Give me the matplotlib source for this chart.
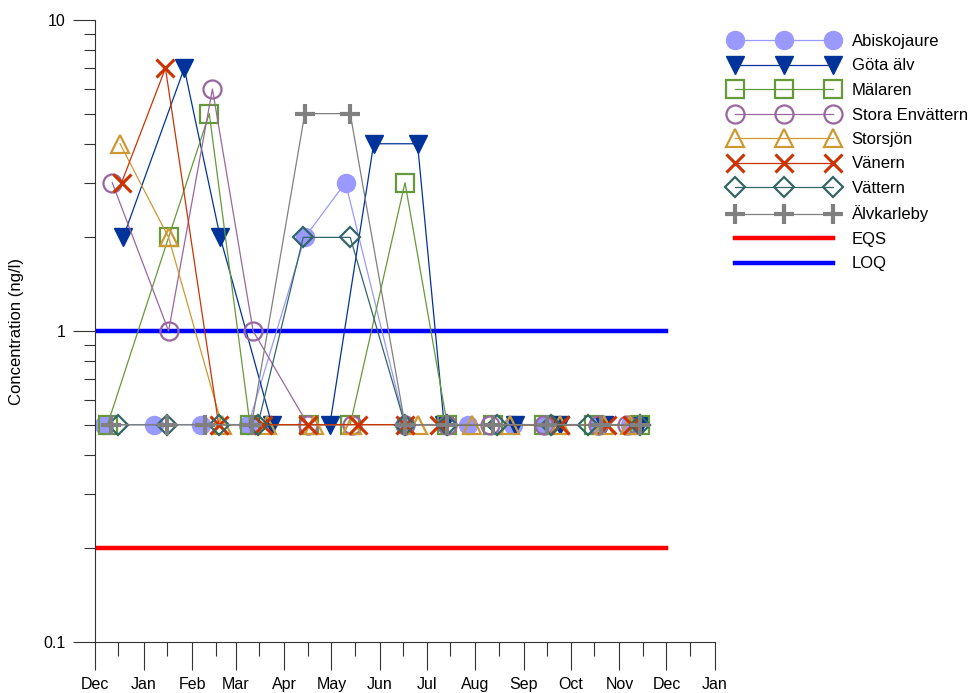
import matplotlib
matplotlib.use("Agg")
import matplotlib.pyplot as plt
import matplotlib.dates as mdates
from matplotlib.lines import Line2D
from matplotlib.legend_handler import HandlerLine2D
from matplotlib.ticker import FixedLocator, FixedFormatter
import pandas as pd

plt.rcParams['font.family'] = ['Liberation Sans', 'DejaVu Sans']

# ---- data ----
abisko_dates = ['2008-12-07', '2009-01-08', '2009-02-07', '2009-03-09', '2009-04-14', '2009-05-10',
                '2009-06-17', '2009-07-27', '2009-08-25', '2009-09-14', '2009-10-18', '2009-11-08']
abisko_vals = [0.5, 0.5, 0.5, 0.5, 2, 3, 0.5, 0.5, 0.5, 0.5, 0.5, 0.5]

gota_dates = ['2008-12-19', '2009-01-27', '2009-02-19', '2009-03-24', '2009-04-30', '2009-05-28',
              '2009-06-25', '2009-07-12', '2009-08-26', '2009-09-24', '2009-10-22', '2009-11-14']
gota_vals = [2, 7, 2, 0.5, 0.5, 4, 4, 0.5, 0.5, 0.5, 0.5, 0.5]

malaren_dates = ['2008-12-09', '2009-01-17', '2009-02-12', '2009-03-10', '2009-04-17', '2009-05-13',
                 '2009-06-17', '2009-07-14', '2009-08-12', '2009-09-14', '2009-10-16', '2009-11-14']
malaren_vals = [0.5, 2, 5, 0.5, 0.5, 0.5, 3, 0.5, 0.5, 0.5, 0.5, 0.5]

stora_dates = ['2008-12-12', '2009-01-17', '2009-02-14', '2009-03-12', '2009-04-16', '2009-05-14',
               '2009-06-17', '2009-07-14', '2009-08-10', '2009-09-14', '2009-10-18', '2009-11-06']
stora_vals = [3, 1, 6, 1, 0.5, 0.5, 0.5, 0.5, 0.5, 0.5, 0.5, 0.5]

storsjon_dates = ['2008-12-17', '2009-01-17', '2009-02-20', '2009-03-21', '2009-04-20', '2009-05-14',
                  '2009-06-25', '2009-07-30', '2009-08-23', '2009-09-24', '2009-10-22', '2009-11-08']
storsjon_vals = [4, 2, 0.5, 0.5, 0.5, 0.5, 0.5, 0.5, 0.5, 0.5, 0.5, 0.5]

vanern_dates = ['2008-12-18', '2009-01-15', '2009-02-18', '2009-03-18', '2009-04-16', '2009-05-18',
                '2009-06-17', '2009-07-09', '2009-09-24', '2009-10-24', '2009-11-09']
vanern_vals = [3, 7, 0.5, 0.5, 0.5, 0.5, 0.5, 0.5, 0.5, 0.5, 0.5]

vattern_dates = ['2008-12-16', '2009-01-16', '2009-02-18', '2009-03-15', '2009-04-13', '2009-05-13',
                 '2009-06-17', '2009-07-14', '2009-08-15', '2009-09-18', '2009-10-12', '2009-11-14']
vattern_vals = [0.5, 0.5, 0.5, 0.5, 2, 2, 0.5, 0.5, 0.5, 0.5, 0.5, 0.5]

alvk_dates = ['2008-12-11', '2009-01-16', '2009-02-09', '2009-03-11', '2009-04-14', '2009-05-13',
              '2009-06-17', '2009-07-14', '2009-08-12', '2009-09-16', '2009-10-20', '2009-11-14']
alvk_vals = [0.5, 0.5, 0.5, 0.5, 5, 5, 0.5, 0.5, 0.5, 0.5, 0.5, 0.5]

eqs_value = 0.2
loq_value = 1.0
ref_line_dates = ['2008-12-01', '2009-12-01']

series_names = ['Abiskojaure', 'Göta älv', 'Mälaren', 'Stora Envättern', 'Storsjön',
                'Vänern', 'Vättern', 'Älvkarleby']
y_tick_values = [0.1, 1, 10]
y_tick_labels = ['0.1', '1', '10']

# ---- styles ----
styles = [
    dict(color='#9999FF', marker='o', ms=13, mfc='#9999FF', mec='#9999FF', mew=1),
    dict(color='#003399', marker='v', ms=13, mfc='#003399', mec='#003399', mew=1),
    dict(color='#66993A', marker='s', ms=12.5, mfc='none', mec='#66993A', mew=1.6),
    dict(color='#9966A0', marker='o', ms=13, mfc='none', mec='#9966A0', mew=1.6),
    dict(color='#CC9933', marker='^', ms=13, mfc='none', mec='#CC9933', mew=1.6),
    dict(color='#CC3300', marker='x', ms=13, mfc='none', mec='#CC3300', mew=2.2),
    dict(color='#336666', marker='D', ms=10, mfc='none', mec='#336666', mew=1.6),
    dict(color='#808080', marker='+', ms=15, mfc='none', mec='#808080', mew=3),
]
data = [(abisko_dates, abisko_vals), (gota_dates, gota_vals), (malaren_dates, malaren_vals),
        (stora_dates, stora_vals), (storsjon_dates, storsjon_vals), (vanern_dates, vanern_vals),
        (vattern_dates, vattern_vals), (alvk_dates, alvk_vals)]

fig = plt.figure(figsize=(9.73, 6.93), dpi=100)
ax = fig.add_axes([95 / 973, 1 - 642 / 693, 620 / 973, 622 / 693])

handles = []
for name, (d, v), st in zip(series_names, data, styles):
    h, = ax.plot(pd.to_datetime(d), v, lw=0.9, label=name, **st)
    handles.append(h)

rd = pd.to_datetime(ref_line_dates)
h_eqs, = ax.plot(rd, [eqs_value, eqs_value], color='#FF0000', lw=3.2, label='EQS', zorder=1)
h_loq, = ax.plot(rd, [loq_value, loq_value], color='#0000FF', lw=3.2, label='LOQ', zorder=1)
handles += [h_eqs, h_loq]

ax.set_yscale('log')
ax.set_ylim(0.1, 10)
ax.set_xlim(pd.Timestamp('2008-12-01'), pd.Timestamp('2010-01-01'))

ax.xaxis.set_major_locator(mdates.MonthLocator())
ax.xaxis.set_major_formatter(mdates.DateFormatter('%b'))
ax.xaxis.set_minor_locator(mdates.MonthLocator(bymonthday=16))
ax.xaxis.set_minor_formatter(plt.NullFormatter())

ax.yaxis.set_major_locator(FixedLocator(y_tick_values))
ax.yaxis.set_major_formatter(FixedFormatter(y_tick_labels))

ax.tick_params(axis='x', which='major', length=20, width=0.8, labelsize=11.5, pad=5, color='#333333')
ax.tick_params(axis='x', which='minor', length=10, width=0.8, color='#333333')
ax.tick_params(axis='y', which='major', length=16, width=0.8, labelsize=11.5, pad=5, color='#333333')
ax.tick_params(axis='y', which='minor', length=8, width=0.8, color='#333333')

for s in ['top', 'right']:
    ax.spines[s].set_visible(False)
for s in ['left', 'bottom']:
    ax.spines[s].set_linewidth(0.8)
    ax.spines[s].set_color('#333333')

ax.set_ylabel('Concentration (ng/l)', fontsize=12)
ax.yaxis.set_label_coords(-0.1145, 0.5)

fig.legend(handles=handles, labels=series_names + ['EQS', 'LOQ'],
           loc='upper left', bbox_to_anchor=(735 / 973, 1 - 34 / 693),
           frameon=False, numpoints=3, fontsize=12, handlelength=5.9,
           handletextpad=1.1, labelspacing=0.57, borderpad=0, borderaxespad=0,
           handler_map={Line2D: HandlerLine2D(marker_pad=0)})

fig.savefig('out.png', dpi=100)
